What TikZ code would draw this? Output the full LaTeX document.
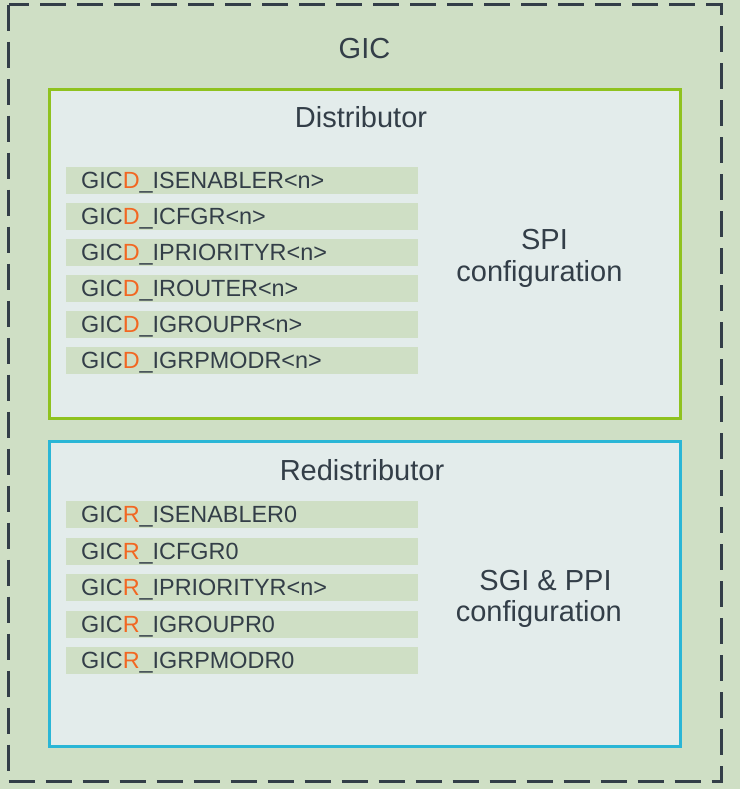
\documentclass[tikz,border=0pt]{standalone}
\usepackage{fontspec}
\setmainfont{Liberation Sans}
\definecolor{bggreen}{RGB}{207,223,197}
\definecolor{boxfill}{RGB}{227,236,235}
\definecolor{distgreen}{RGB}{143,194,31}
\definecolor{redcyan}{RGB}{42,182,214}
\definecolor{txt}{RGB}{51,62,72}
\definecolor{accent}{RGB}{242,103,34}
\tikzset{
  outerbox/.style={draw=txt, line width=3pt, dash pattern=on 26pt off 11pt},
  distbox/.style={draw=distgreen, fill=boxfill, line width=3pt},
  redbox/.style={draw=redcyan, fill=boxfill, line width=3pt},
  reg/.style={fill=bggreen, draw=none, anchor=north west, minimum height=27pt,
    text width=322pt, inner xsep=15pt, inner ysep=0pt, align=left,
    text height=20pt, text depth=4.4pt, text=txt,
    font=\fontsize{23.4}{27}\selectfont},
  title/.style={anchor=base, inner sep=0pt, text=txt, font=\fontsize{29}{33}\selectfont},
}
\newcommand{\gicd}[1]{GIC\textcolor{accent}{D}\_#1}
\newcommand{\gicr}[1]{GIC\textcolor{accent}{R}\_#1}
\begin{document}
\begin{tikzpicture}[x=1pt,y=-1pt]
\fill[bggreen] (0,0) rectangle (740,789);
\useasboundingbox (0,0) rectangle (740,789);
\draw[outerbox] (8.5,4.7) rectangle (721.7,781.7);
\node[title] (gic) at (364.5,59) {GIC};
% Distributor
\draw[distbox] (49,90) rectangle (680,418.3);
\node[title] (dist) at (361,128) {Distributor};
\node[reg] (d1) at (66,167) {\gicd{ISENABLER<n>}};
\node[reg] (d2) at (66,203) {\gicd{ICFGR<n>}};
\node[reg] (d3) at (66,239) {\gicd{IPRIORITYR<n>}};
\node[reg] (d4) at (66,275) {\gicd{IROUTER<n>}};
\node[reg] (d5) at (66,311) {\gicd{IGROUPR<n>}};
\node[reg] (d6) at (66,347) {\gicd{IGRPMODR<n>}};
\node[title] (spi1) at (544.5,249) {SPI};
\node[title] (spi2) at (539.4,281.7) {configuration};
% Redistributor
\draw[redbox] (49,441) rectangle (680,746.7);
\node[title] (redist) at (362,480) {Redistributor};
\node[reg] (r1) at (66,501) {\gicr{ISENABLER0}};
\node[reg] (r2) at (66,537.5) {\gicr{ICFGR0}};
\node[reg] (r3) at (66,574) {\gicr{IPRIORITYR<n>}};
\node[reg] (r4) at (66,610.5) {\gicr{IGROUPR0}};
\node[reg] (r5) at (66,647) {\gicr{IGRPMODR0}};
\node[title] (sgi1) at (545.5,590.7) {SGI \& PPI};
\node[title] (sgi2) at (538.8,621.7) {configuration};
\end{tikzpicture}
\end{document}
